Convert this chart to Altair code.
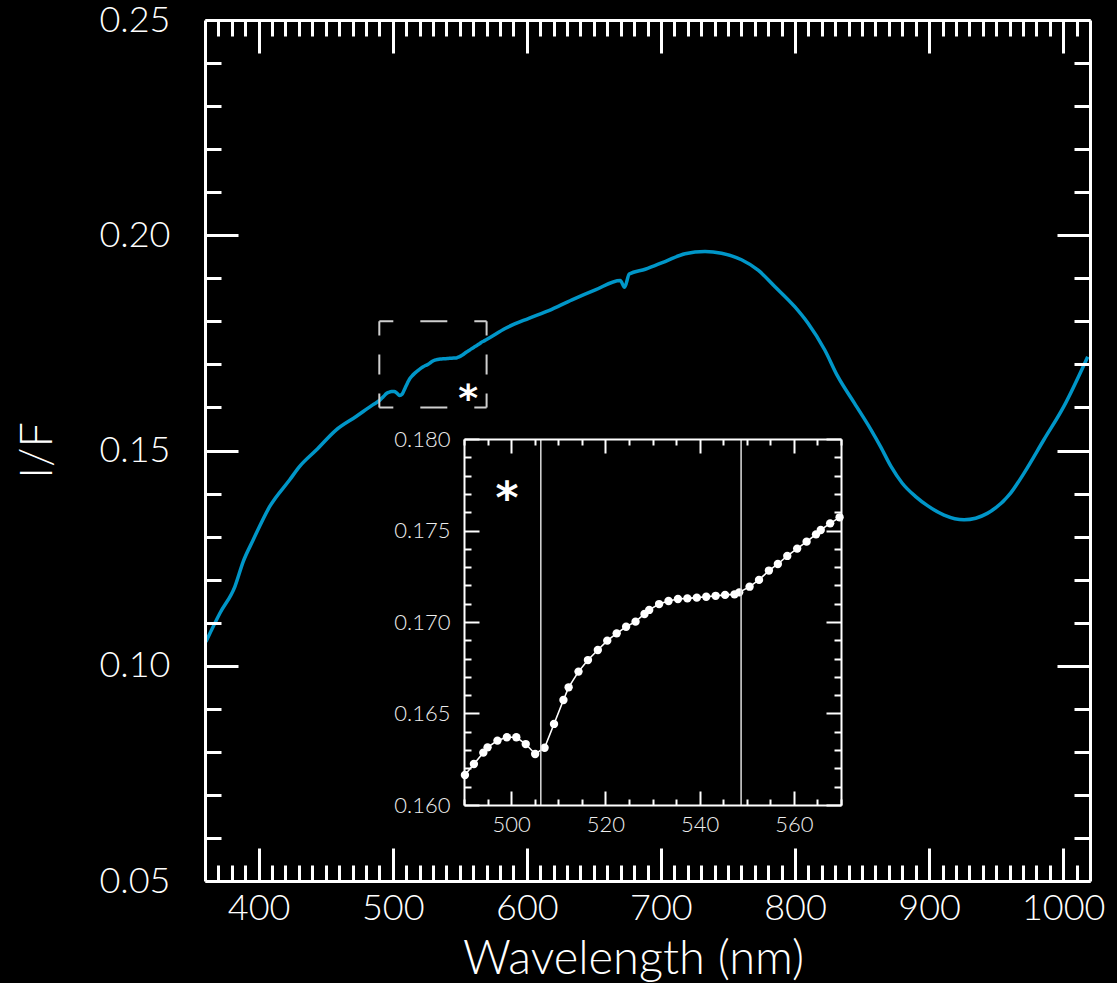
import altair as alt
import pandas as pd

# ---------------- data ----------------
# main spectrum, short-wavelength part (before the inset window)
wl_lo = [360.7, 371.1, 382.3, 388.5, 395.9, 408.3, 423.2, 430.6, 443.0, 457.9, 472.7, 485.1]
iof_lo = [0.1056, 0.1122, 0.1184, 0.1242, 0.1292, 0.1370, 0.1432, 0.1463, 0.1501, 0.1548, 0.1579, 0.1606]

# inset window (490-570 nm), individual samples
wl_inset = [490.2, 492.1, 494.1, 495.0, 497.1, 499.1, 501.1, 503.1, 505.1, 507.1,
            509.1, 511.1, 512.2, 514.3, 516.3, 518.4, 520.4, 522.4, 524.4, 526.4,
            528.3, 529.3, 531.4, 533.4, 535.4, 537.4, 539.4, 541.4, 543.4, 545.4,
            547.4, 548.4, 550.6, 552.6, 554.7, 556.6, 558.6, 560.7, 562.7, 564.7,
            565.7, 567.7, 569.7]
iof_inset = [0.16164, 0.16224, 0.16286, 0.16315, 0.16352, 0.16370, 0.16370, 0.16333, 0.16279, 0.16313,
             0.16443, 0.16574, 0.16643, 0.16729, 0.16792, 0.16847, 0.16898, 0.16938, 0.16974, 0.17002,
             0.17044, 0.17066, 0.17098, 0.17115, 0.17126, 0.17129, 0.17133, 0.17138, 0.17143, 0.17148,
             0.17151, 0.17162, 0.17193, 0.17230, 0.17281, 0.17317, 0.17361, 0.17401, 0.17439, 0.17479,
             0.17503, 0.17539, 0.17572]

# main spectrum, long-wavelength part
wl_hi = [584.2, 601.5, 616.4, 633.7, 651.1, 669.7, 672.9, 676.4, 688.3, 703.1, 718.0, 732.9,
         745.2, 760.1, 772.5, 784.9, 799.8, 809.6, 822.1, 831.9, 844.3, 856.7, 864.0, 871.6,
         880.0, 890.0, 898.8, 911.2, 926.1, 943.4, 960.8, 970.7, 985.6, 1000.4, 1018.3]
iof_hi = [0.1784, 0.1807, 0.1825, 0.1850, 0.1873, 0.1895, 0.1879, 0.1910, 0.1921, 0.1939, 0.1957, 0.1962,
          0.1958, 0.1943, 0.1919, 0.1881, 0.1834, 0.1796, 0.1734, 0.1672, 0.1610, 0.1548, 0.1508, 0.1463,
          0.1424, 0.1393, 0.1372, 0.1350, 0.1339, 0.1354, 0.1401, 0.1447, 0.1525, 0.1602, 0.1718]

# vertical marker lines in the inset
vline_wl = [506.3, 548.8]

# axis tick values
main_x_major = [400, 500, 600, 700, 800, 900, 1000]
main_x_minor = [v for v in range(370, 1020, 10) if v % 100 != 0]
main_y_major = [0.05, 0.10, 0.15, 0.20, 0.25]
main_y_minor = [0.06, 0.07, 0.08, 0.09, 0.11, 0.12, 0.13, 0.14, 0.16, 0.17, 0.18, 0.19,
                0.21, 0.22, 0.23, 0.24]
inset_x_major = [500, 520, 540, 560]
inset_x_minor = [v for v in range(490, 571, 5) if v % 20 != 0]
inset_y_major = [0.160, 0.165, 0.170, 0.175, 0.180]
inset_y_minor = [0.161, 0.162, 0.163, 0.164, 0.166, 0.167, 0.168, 0.169,
                 0.171, 0.172, 0.173, 0.174, 0.176, 0.177, 0.178, 0.179]

main_df = pd.DataFrame({"wl": wl_lo + wl_inset + wl_hi, "iof": iof_lo + iof_inset + iof_hi})
inset_df = pd.DataFrame({"wl": wl_inset, "iof": iof_inset})
vline_df = pd.DataFrame({"wl": vline_wl, "y0": [0.160] * 2, "y1": [0.180] * 2})
box_h_df = pd.DataFrame({"x0": [490, 490], "x1": [570, 570], "y": [0.180, 0.160]})
box_v_df = pd.DataFrame({"x": [490, 570], "y0": [0.160, 0.160], "y1": [0.180, 0.180]})
star_main_df = pd.DataFrame({"wl": [556.2], "iof": [0.1636], "t": ["*"]})
star_inset_df = pd.DataFrame({"wl": [499.1], "iof": [0.1772], "t": ["*"]})

# ---------------- layout ----------------
W, H = 885, 861
FONT = "Lato"
FW = 300
BLUE = "#0096c8"
IN_L, IN_R, IN_T, IN_B = 259, 636, 419, 785   # inset frame inside the plot area

x_main = alt.Scale(domain=[360, 1020], nice=False, zero=False)
y_main = alt.Scale(domain=[0.05, 0.25], nice=False, zero=False)
x_in = alt.Scale(domain=[490, 570], range=[IN_L, IN_R], nice=False, zero=False)
y_in = alt.Scale(domain=[0.160, 0.180], range=[IN_B, IN_T], nice=False, zero=False)


def tick_axis(orient, offset, values, size, width, domain, dwidth):
    return alt.Axis(orient=orient, offset=offset, values=values, tickSize=size,
                    tickWidth=width, tickColor="white", labels=False, title=None,
                    grid=False, domain=domain, domainColor="white",
                    domainWidth=dwidth, zindex=2)


def ghost(df, xs, ys, xa, ya):
    return alt.Chart(df).mark_point(opacity=0).encode(
        x=alt.X("wl:Q", scale=xs, axis=xa),
        y=alt.Y("iof:Q", scale=ys, axis=ya),
    )


layers = []

# main curve with labelled axes
layers.append(
    alt.Chart(main_df).mark_line(color=BLUE, strokeWidth=3.5, interpolate="monotone").encode(
        x=alt.X("wl:Q", scale=x_main, axis=alt.Axis(
            orient="bottom", values=main_x_major, format="d", ticks=False, tickSize=0, domain=False,
            grid=False, labelFontSize=36, labelColor="white", labelPadding=10,
            labelFlush=False, labelOverlap=False, labelFont=FONT, labelFontWeight=FW,
            title="Wavelength (nm)", titleFontSize=47, titleColor="white",
            titleFontWeight=FW, titleFont=FONT, titleX=428, titleY=92,
            titleAlign="center", titleBaseline="alphabetic")),
        y=alt.Y("iof:Q", scale=y_main, axis=alt.Axis(
            orient="left", values=main_y_major, format=".2f", ticks=False, tickSize=0,
            domain=False, grid=False, labelFontSize=36, labelColor="white",
            labelPadding=35, labelFlush=False, labelOverlap=False, labelFont=FONT,
            labelFontWeight=FW,
            title="I/F", titleFontSize=45, titleColor="white", titleFontWeight=FW,
            titleFont=FONT, titleX=-168, titleY=430, titleAngle=270,
            titleAlign="center", titleBaseline="middle")),
    )
)

# main frame with inward ticks (bottom/left then top/right)
layers.append(ghost(main_df, x_main, y_main,
                    tick_axis("top", -H, main_x_major, 33, 3, True, 3),
                    tick_axis("right", -W, main_y_major, 33, 3, True, 3)))
layers.append(ghost(main_df, x_main, y_main,
                    tick_axis("top", -H, main_x_minor, 16, 3, False, 3),
                    tick_axis("right", -W, main_y_minor, 16, 3, False, 3)))
layers.append(ghost(main_df, x_main, y_main,
                    tick_axis("bottom", -H, main_x_major, 33, 3, True, 3),
                    tick_axis("left", -W, main_y_major, 33, 3, True, 3)))
layers.append(ghost(main_df, x_main, y_main,
                    tick_axis("bottom", -H, main_x_minor, 16, 3, False, 3),
                    tick_axis("left", -W, main_y_minor, 16, 3, False, 3)))

# dashed box marking the inset window
layers.append(alt.Chart(box_h_df).mark_rule(color="#cfcfcf", strokeWidth=2,
                                            strokeDash=[27, 27], strokeDashOffset=13).encode(
    x=alt.X("x0:Q", scale=x_main, axis=None), x2="x1:Q",
    y=alt.Y("y:Q", scale=y_main, axis=None)))
layers.append(alt.Chart(box_v_df).mark_rule(color="#cfcfcf", strokeWidth=2,
                                            strokeDash=[20, 19], strokeDashOffset=6).encode(
    x=alt.X("x:Q", scale=x_main, axis=None),
    y=alt.Y("y0:Q", scale=y_main, axis=None), y2="y1:Q"))
layers.append(alt.Chart(star_main_df).mark_text(font="DejaVu Sans", fontSize=38, fontWeight="bold",
                                                color="white", baseline="middle", align="center",
                                                dy=8).encode(
    x=alt.X("wl:Q", scale=x_main, axis=None),
    y=alt.Y("iof:Q", scale=y_main, axis=None), text="t:N"))

# inset: data with labelled axes
layers.append(
    alt.Chart(inset_df).mark_line(color="white", strokeWidth=1.6,
                                  point=alt.OverlayMarkDef(filled=True, color="white", size=70, opacity=1)).encode(
        x=alt.X("wl:Q", scale=x_in, axis=alt.Axis(
            orient="bottom", offset=IN_B - H, values=inset_x_major, ticks=False, tickSize=0,
            domain=False, grid=False, labelFontSize=22, labelColor="#eeeeee", labelPadding=9,
            labelFlush=False, labelOverlap=False, labelFont=FONT, labelFontWeight=FW, title=None)),
        y=alt.Y("iof:Q", scale=y_in, axis=alt.Axis(
            orient="left", offset=-IN_L, values=inset_y_major, format=".3f", ticks=False,
            tickSize=0, domain=False, grid=False, labelFontSize=22, labelColor="#eeeeee",
            labelPadding=14, labelFlush=False, labelOverlap=False, labelFont=FONT,
            labelFontWeight=FW, title=None)),
    )
)

# inset frame with inward ticks
layers.append(ghost(inset_df, x_in, y_in,
                    tick_axis("top", -IN_B, inset_x_major, 14, 2, True, 2),
                    tick_axis("right", IN_L - W, inset_y_major, 15, 2, True, 2)))
layers.append(ghost(inset_df, x_in, y_in,
                    tick_axis("top", -IN_B, inset_x_minor, 6, 2, False, 2),
                    tick_axis("right", IN_L - W, inset_y_minor, 7, 2, False, 2)))
layers.append(ghost(inset_df, x_in, y_in,
                    tick_axis("bottom", IN_T - H, inset_x_major, 14, 2, True, 2),
                    tick_axis("left", -IN_R, inset_y_major, 15, 2, True, 2)))
layers.append(ghost(inset_df, x_in, y_in,
                    tick_axis("bottom", IN_T - H, inset_x_minor, 6, 2, False, 2),
                    tick_axis("left", -IN_R, inset_y_minor, 7, 2, False, 2)))

# inset vertical lines and asterisk
layers.append(alt.Chart(vline_df).mark_rule(color="#dddddd", strokeWidth=1.5).encode(
    x=alt.X("wl:Q", scale=x_in, axis=None),
    y=alt.Y("y0:Q", scale=y_in, axis=None), y2="y1:Q"))
layers.append(alt.Chart(star_inset_df).mark_text(font="DejaVu Sans", fontSize=44, fontWeight="bold",
                                                 color="white", baseline="middle", align="center",
                                                 dy=10).encode(
    x=alt.X("wl:Q", scale=x_in, axis=None),
    y=alt.Y("iof:Q", scale=y_in, axis=None), text="t:N"))

chart = alt.layer(*layers).resolve_scale(
    x="independent", y="independent"
).properties(
    width=W, height=H,
    padding={"left": 205, "top": 20, "right": 27, "bottom": 102},
    autosize=alt.AutoSizeParams(type="none"),
    background="black",
).configure_view(stroke=None)

chart.save("out.html", embed_options={"renderer": "svg", "actions": False})
